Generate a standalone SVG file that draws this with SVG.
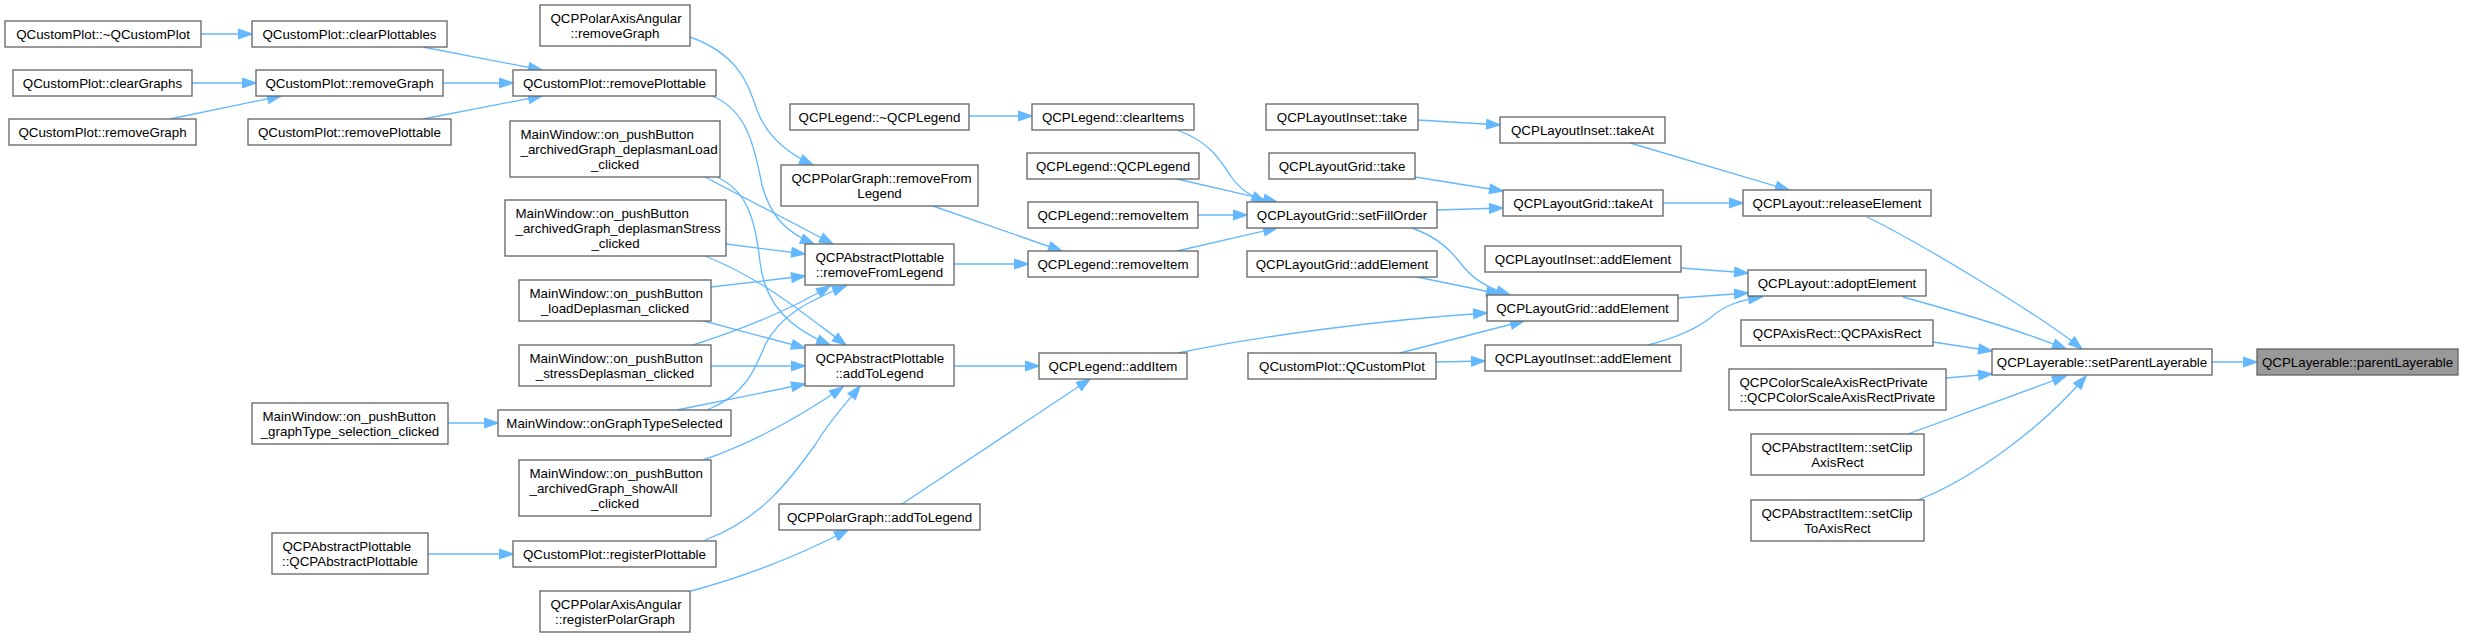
<svg xmlns="http://www.w3.org/2000/svg" width="2480" height="637" viewBox="0 0 2480 637">
<style>
.node rect{fill:#ffffff;stroke:#666666;stroke-width:1.33}
.node.hl rect{fill:#999999}
text{font-family:"Liberation Sans",Arial,Helvetica,sans-serif;font-size:13.33px;fill:#000000}
.m{text-anchor:middle}
.s{text-anchor:start}
.edges path{fill:none;stroke:#63b8ff;stroke-width:1.33;marker-end:url(#ah)}
</style>
<defs>
<marker id="ah" markerUnits="userSpaceOnUse" markerWidth="16" markerHeight="12" viewBox="-1 -1 16 12" refX="13.3" refY="4.67" orient="auto" overflow="visible">
<path d="M0,0 L13.3,4.67 L0,9.33 Z" fill="#63b8ff" stroke="#63b8ff" stroke-width="1.33"/>
</marker>
</defs>
<rect width="2480" height="637" fill="#ffffff"/>
<g class="edges" id="edges">
<path d="M201,34 L252,34"/>
<path d="M423,47 L542,70"/>
<path d="M192,83 L256,83"/>
<path d="M170,119 L281,96"/>
<path d="M443,83 L513,83"/>
<path d="M423,119 L542,96"/>
<path d="M448,423 L498,423"/>
<path d="M428,554 L513,554"/>
<path d="M690,37 C740,55 748,85 757,110 C766,135 785,152 813,165"/>
<path d="M712,96 C748,110 755,150 762,185 C770,215 785,232 814,244"/>
<path d="M705,177 L833,244"/>
<path d="M717,177 C745,190 755,215 760,262 C765,305 790,328 830,345"/>
<path d="M726,244 L805,254"/>
<path d="M705,256 C765,280 805,315 846,345"/>
<path d="M711,287 L805,276"/>
<path d="M700,320 L805,348"/>
<path d="M693,345 C740,330 790,310 830,286"/>
<path d="M711,366 L805,366"/>
<path d="M707,410 C745,395 755,370 765,345 C780,315 810,300 846,286"/>
<path d="M677,410 L805,384"/>
<path d="M703,460 C760,440 810,410 843,387"/>
<path d="M705,540 C760,520 790,480 815,445 C830,420 845,405 860,386"/>
<path d="M691,591 C740,578 790,560 848,530"/>
<path d="M933,206 L1062,251"/>
<path d="M954,264 L1028,264"/>
<path d="M969,116 L1032,116"/>
<path d="M1177,130 C1210,142 1220,160 1230,175 C1240,190 1250,195 1265,202"/>
<path d="M1177,179 L1277,202"/>
<path d="M1198,215 L1247,215"/>
<path d="M1177,251 L1277,228"/>
<path d="M954,366 L1039,366"/>
<path d="M902,504 L1090,379"/>
<path d="M1178,353 C1260,336 1380,320 1487,313"/>
<path d="M1400,353 L1524,321"/>
<path d="M1436,362 L1485,361"/>
<path d="M1418,120 L1500,125"/>
<path d="M1415,177 L1503,191"/>
<path d="M1437,210 L1503,208"/>
<path d="M1412,228 C1440,238 1452,252 1462,265 C1472,278 1485,287 1510,295"/>
<path d="M1417,277 L1500,294"/>
<path d="M1678,298 L1748,293"/>
<path d="M1681,268 L1748,273"/>
<path d="M1648,345 C1675,338 1695,330 1710,318 C1725,305 1740,300 1762,297"/>
<path d="M1630,143 L1789,190"/>
<path d="M1663,203 L1743,203"/>
<path d="M1867,217 C1920,243 2040,315 2082,349"/>
<path d="M1903,297 C1950,310 2020,330 2066,349"/>
<path d="M1933,342 L1992,351"/>
<path d="M1946,378 L1992,374"/>
<path d="M1908,434 C1960,415 2020,393 2066,376"/>
<path d="M1918,500 C1970,480 2040,430 2086,376"/>
<path d="M2212,362 L2257,362"/>
</g>
<g class="node" id="n_dtor"><rect x="5" y="21" width="196" height="26"/><text class="m" x="103" y="39">QCustomPlot::~QCustomPlot</text></g>
<g class="node" id="n_clearPlottables"><rect x="252" y="21" width="195" height="26"/><text class="m" x="349.5" y="39">QCustomPlot::clearPlottables</text></g>
<g class="node" id="n_clearGraphs"><rect x="13" y="70" width="179" height="26"/><text class="m" x="102.5" y="88">QCustomPlot::clearGraphs</text></g>
<g class="node" id="n_removeGraphMid"><rect x="256" y="70" width="187" height="26"/><text class="m" x="349.5" y="88">QCustomPlot::removeGraph</text></g>
<g class="node" id="n_removeGraphLeft"><rect x="9" y="119" width="187" height="26"/><text class="m" x="102.5" y="137">QCustomPlot::removeGraph</text></g>
<g class="node" id="n_removePlottableLeft"><rect x="248" y="119" width="203" height="26"/><text class="m" x="349.5" y="137">QCustomPlot::removePlottable</text></g>
<g class="node" id="n_graphTypeSel"><rect x="252" y="403" width="196" height="41"/><text class="s" x="262.5" y="421">MainWindow::on_pushButton</text><text class="m" x="350" y="436">_graphType_selection_clicked</text></g>
<g class="node" id="n_absPlotCtor"><rect x="272" y="533" width="156" height="41"/><text class="s" x="282.5" y="551">QCPAbstractPlottable</text><text class="m" x="350" y="566">::QCPAbstractPlottable</text></g>
<g class="node" id="n_polarRemoveGraph"><rect x="540" y="5" width="150" height="41"/><text class="s" x="550.5" y="23">QCPPolarAxisAngular</text><text class="m" x="615" y="38">::removeGraph</text></g>
<g class="node" id="n_removePlottable"><rect x="513" y="70" width="203" height="26"/><text class="m" x="614.5" y="88">QCustomPlot::removePlottable</text></g>
<g class="node" id="n_deplLoad"><rect x="510" y="121" width="210" height="56"/><text class="s" x="520.5" y="139">MainWindow::on_pushButton</text><text class="s" x="520.5" y="154">_archivedGraph_deplasmanLoad</text><text class="m" x="615" y="169">_clicked</text></g>
<g class="node" id="n_deplStress"><rect x="505" y="200" width="221" height="56"/><text class="s" x="515.5" y="218">MainWindow::on_pushButton</text><text class="s" x="515.5" y="233">_archivedGraph_deplasmanStress</text><text class="m" x="615.5" y="248">_clicked</text></g>
<g class="node" id="n_loadDepl"><rect x="519" y="280" width="192" height="41"/><text class="s" x="529.5" y="298">MainWindow::on_pushButton</text><text class="m" x="615" y="313">_loadDeplasman_clicked</text></g>
<g class="node" id="n_stressDepl"><rect x="519" y="345" width="192" height="41"/><text class="s" x="529.5" y="363">MainWindow::on_pushButton</text><text class="m" x="615" y="378">_stressDeplasman_clicked</text></g>
<g class="node" id="n_onGraphType"><rect x="498" y="410" width="233" height="26"/><text class="m" x="614.5" y="428">MainWindow::onGraphTypeSelected</text></g>
<g class="node" id="n_showAll"><rect x="519" y="460" width="192" height="56"/><text class="s" x="529.5" y="478">MainWindow::on_pushButton</text><text class="s" x="529.5" y="493">_archivedGraph_showAll</text><text class="m" x="615" y="508">_clicked</text></g>
<g class="node" id="n_registerPlottable"><rect x="513" y="541" width="203" height="26"/><text class="m" x="614.5" y="559">QCustomPlot::registerPlottable</text></g>
<g class="node" id="n_registerPolarGraph"><rect x="540" y="591" width="150" height="41"/><text class="s" x="550.5" y="609">QCPPolarAxisAngular</text><text class="m" x="615" y="624">::registerPolarGraph</text></g>
<g class="node" id="n_legendDtor"><rect x="790" y="104" width="179" height="26"/><text class="m" x="879.5" y="122">QCPLegend::~QCPLegend</text></g>
<g class="node" id="n_polarRemoveFromLegend"><rect x="781" y="165" width="197" height="41"/><text class="s" x="791.5" y="183">QCPPolarGraph::removeFrom</text><text class="m" x="879.5" y="198">Legend</text></g>
<g class="node" id="n_removeFromLegend"><rect x="805" y="244" width="149" height="41"/><text class="s" x="815.5" y="262">QCPAbstractPlottable</text><text class="m" x="879.5" y="277">::removeFromLegend</text></g>
<g class="node" id="n_addToLegend"><rect x="805" y="345" width="149" height="41"/><text class="s" x="815.5" y="363">QCPAbstractPlottable</text><text class="m" x="879.5" y="378">::addToLegend</text></g>
<g class="node" id="n_polarAddToLegend"><rect x="779" y="504" width="201" height="26"/><text class="m" x="879.5" y="522">QCPPolarGraph::addToLegend</text></g>
<g class="node" id="n_clearItems"><rect x="1032" y="104" width="162" height="26"/><text class="m" x="1113" y="122">QCPLegend::clearItems</text></g>
<g class="node" id="n_legendCtor"><rect x="1027" y="153" width="172" height="26"/><text class="m" x="1113" y="171">QCPLegend::QCPLegend</text></g>
<g class="node" id="n_removeItem1"><rect x="1028" y="202" width="170" height="26"/><text class="m" x="1113" y="220">QCPLegend::removeItem</text></g>
<g class="node" id="n_removeItem2"><rect x="1028" y="251" width="170" height="26"/><text class="m" x="1113" y="269">QCPLegend::removeItem</text></g>
<g class="node" id="n_addItem"><rect x="1039" y="353" width="148" height="26"/><text class="m" x="1113" y="371">QCPLegend::addItem</text></g>
<g class="node" id="n_insetTake"><rect x="1266" y="104" width="152" height="26"/><text class="m" x="1342" y="122">QCPLayoutInset::take</text></g>
<g class="node" id="n_gridTake"><rect x="1269" y="153" width="146" height="26"/><text class="m" x="1342" y="171">QCPLayoutGrid::take</text></g>
<g class="node" id="n_setFillOrder"><rect x="1247" y="202" width="190" height="26"/><text class="m" x="1342" y="220">QCPLayoutGrid::setFillOrder</text></g>
<g class="node" id="n_gridAddElement1"><rect x="1247" y="251" width="190" height="26"/><text class="m" x="1342" y="269">QCPLayoutGrid::addElement</text></g>
<g class="node" id="n_customPlotCtor"><rect x="1248" y="353" width="188" height="26"/><text class="m" x="1342" y="371">QCustomPlot::QCustomPlot</text></g>
<g class="node" id="n_insetTakeAt"><rect x="1500" y="117" width="165" height="26"/><text class="m" x="1582.5" y="135">QCPLayoutInset::takeAt</text></g>
<g class="node" id="n_gridTakeAt"><rect x="1503" y="190" width="160" height="26"/><text class="m" x="1583" y="208">QCPLayoutGrid::takeAt</text></g>
<g class="node" id="n_insetAddElement1"><rect x="1485" y="246" width="196" height="26"/><text class="m" x="1583" y="264">QCPLayoutInset::addElement</text></g>
<g class="node" id="n_gridAddElement2"><rect x="1487" y="295" width="191" height="26"/><text class="m" x="1582.5" y="313">QCPLayoutGrid::addElement</text></g>
<g class="node" id="n_insetAddElement2"><rect x="1485" y="345" width="196" height="26"/><text class="m" x="1583" y="363">QCPLayoutInset::addElement</text></g>
<g class="node" id="n_releaseElement"><rect x="1743" y="190" width="188" height="26"/><text class="m" x="1837" y="208">QCPLayout::releaseElement</text></g>
<g class="node" id="n_adoptElement"><rect x="1748" y="270" width="178" height="26"/><text class="m" x="1837" y="288">QCPLayout::adoptElement</text></g>
<g class="node" id="n_axisRectCtor"><rect x="1741" y="320" width="192" height="26"/><text class="m" x="1837" y="338">QCPAxisRect::QCPAxisRect</text></g>
<g class="node" id="n_colorScale"><rect x="1729" y="369" width="217" height="41"/><text class="s" x="1739.5" y="387">QCPColorScaleAxisRectPrivate</text><text class="m" x="1837.5" y="402">::QCPColorScaleAxisRectPrivate</text></g>
<g class="node" id="n_setClipAxisRect"><rect x="1751" y="434" width="173" height="41"/><text class="s" x="1761.5" y="452">QCPAbstractItem::setClip</text><text class="m" x="1837.5" y="467">AxisRect</text></g>
<g class="node" id="n_setClipToAxisRect"><rect x="1751" y="500" width="173" height="41"/><text class="s" x="1761.5" y="518">QCPAbstractItem::setClip</text><text class="m" x="1837.5" y="533">ToAxisRect</text></g>
<g class="node" id="n_setParent"><rect x="1992" y="349" width="220" height="26"/><text class="m" x="2102" y="367">QCPLayerable::setParentLayerable</text></g>
<g class="node hl" id="n_parent"><rect x="2257" y="349" width="201" height="26"/><text class="m" x="2357.5" y="367">QCPLayerable::parentLayerable</text></g>
</svg>
